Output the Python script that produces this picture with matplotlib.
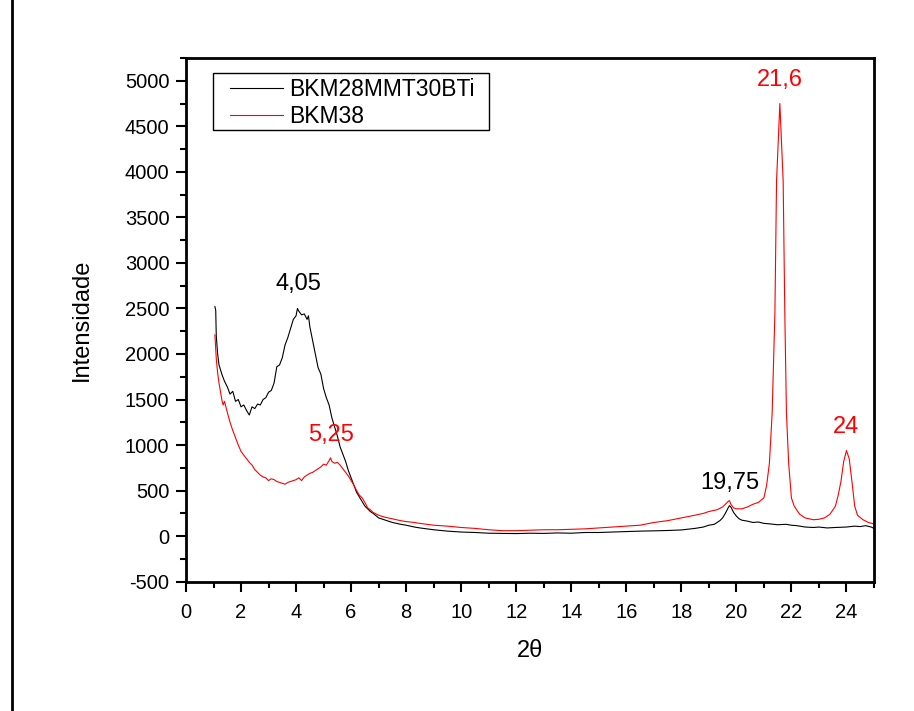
import matplotlib
matplotlib.use("Agg")
import matplotlib.pyplot as plt
from matplotlib.patches import Rectangle
from matplotlib.ticker import MultipleLocator

plt.rcParams['font.family'] = ['Liberation Sans', 'DejaVu Sans']
plt.rcParams['axes.unicode_minus'] = False

# BKM28MMT30BTi (black)
x_black = [1.05, 1.08, 1.1, 1.15, 1.2, 1.3, 1.4, 1.5, 1.6, 1.7, 1.8, 1.9, 2.0, 2.1, 2.2, 2.3, 2.4, 2.5,
           2.6, 2.7, 2.8, 2.9, 3.0, 3.1, 3.2, 3.3, 3.4, 3.5, 3.6, 3.7, 3.8, 3.9, 4.0, 4.05, 4.1, 4.2,
           4.3, 4.4, 4.45, 4.5, 4.6, 4.7, 4.8, 4.9, 5.0, 5.1, 5.2, 5.3, 5.4, 5.5, 5.6, 5.7, 5.8, 5.9,
           6.0, 6.1, 6.2, 6.3, 6.4, 6.5, 6.6, 6.7, 6.8, 7.0, 7.2, 7.5, 7.8, 8.0, 8.3, 8.5, 9.0, 9.5,
           10.0, 10.5, 11.0, 11.5, 12.0, 12.5, 13.0, 13.5, 14.0, 14.5, 15.0, 15.5, 16.0, 16.5, 17.0,
           17.5, 18.0, 18.5, 18.8, 19.0, 19.2, 19.4, 19.5, 19.6, 19.7, 19.75, 19.8, 19.9, 20.0, 20.1,
           20.2, 20.4, 20.6, 20.8, 21.0, 21.2, 21.5, 21.8, 22.0, 22.2, 22.5, 22.8, 23.0, 23.3, 23.6,
           24.0, 24.3, 24.5, 24.7, 24.9, 25.0]
y_black = [2520, 2480, 2200, 2000, 1880, 1780, 1700, 1640, 1560, 1590, 1480, 1500, 1420, 1440, 1380, 1330, 1420, 1400,
           1450, 1440, 1500, 1520, 1580, 1600, 1680, 1860, 1880, 1960, 2100, 2180, 2280, 2380, 2420, 2500, 2470, 2430,
           2440, 2380, 2420, 2300, 2150, 2000, 1850, 1780, 1620, 1520, 1440, 1300, 1200, 1100, 980, 900, 820, 720,
           640, 560, 480, 430, 380, 330, 300, 270, 250, 200, 180, 150, 130, 120, 100, 90, 70, 55,
           45, 40, 32, 30, 28, 32, 30, 35, 32, 40, 40, 45, 50, 55, 58,
           62, 68, 85, 100, 120, 130, 170, 200, 250, 310, 335, 320, 260, 220, 190,
           175, 165, 150, 155, 140, 135, 125, 130, 120, 115, 100, 95, 100, 90, 95,
           100, 110, 105, 115, 100, 85]

# BKM38 (red)
x_red = [1.05, 1.1, 1.15, 1.2, 1.3, 1.35, 1.4, 1.5, 1.6, 1.7, 1.8, 1.9, 2.0, 2.1, 2.2, 2.3, 2.4, 2.5,
         2.6, 2.7, 2.8, 2.9, 3.0, 3.1, 3.2, 3.3, 3.4, 3.5, 3.6, 3.7, 3.8, 3.9, 4.0, 4.1, 4.2, 4.3,
         4.4, 4.5, 4.6, 4.7, 4.8, 4.9, 5.0, 5.1, 5.2, 5.25, 5.3, 5.4, 5.5, 5.6, 5.7, 5.8, 5.9, 6.0,
         6.1, 6.2, 6.3, 6.4, 6.5, 6.6, 6.7, 6.8, 7.0, 7.2, 7.5, 7.8, 8.0, 8.3, 8.5, 9.0, 9.5, 10.0,
         10.5, 11.0, 11.5, 12.0, 12.5, 13.0, 13.5, 14.0, 14.5, 15.0, 15.5, 16.0, 16.5, 17.0, 17.5,
         18.0, 18.5, 18.8, 19.0, 19.3, 19.5, 19.7, 19.75, 19.8, 19.9, 20.0, 20.2, 20.4, 20.6, 20.8,
         21.0, 21.1, 21.2, 21.3, 21.4, 21.46, 21.58, 21.7, 21.76, 21.82, 21.9, 22.0, 22.1, 22.3,
         22.5, 22.8, 23.0, 23.2, 23.4, 23.6, 23.7, 23.8, 23.9, 24.0, 24.1, 24.2, 24.3, 24.4, 24.6,
         24.8, 25.0]
y_red = [2210, 1950, 1790, 1680, 1500, 1440, 1480, 1360, 1250, 1160, 1080, 1000, 930, 890, 850, 810, 780, 730,
         700, 670, 650, 640, 610, 630, 620, 600, 590, 580, 570, 590, 600, 610, 620, 640, 610, 650,
         670, 690, 700, 720, 740, 760, 790, 780, 830, 860, 820, 800, 810, 780, 740, 700, 660, 610,
         560, 500, 450, 420, 370, 310, 290, 260, 230, 210, 190, 170, 160, 150, 140, 120, 110, 95,
         85, 70, 60, 60, 65, 70, 70, 75, 80, 90, 100, 110, 120, 150, 170,
         200, 230, 250, 270, 290, 320, 380, 390, 350, 310, 300, 300, 320, 350, 370,
         420, 560, 800, 1350, 2450, 3900, 4750, 3900, 2450, 1350, 800, 420, 330, 240,
         200, 180, 185, 200, 240, 330, 450, 600, 820, 940, 850, 600, 330, 230, 180,
         150, 135]

series_labels = ["BKM28MMT30BTi", "BKM38"]

peak_labels = ["4,05", "5,25", "19,75", "21,6", "24"]
peak_x = [4.07, 5.27, 19.76, 21.58, 23.97]
peak_y = [2770, 1108, 588, 5007, 1197]
peak_colors = ["black", "red", "black", "red", "red"]

fig = plt.figure(figsize=(9.14, 7.11), dpi=100)
ax = fig.add_axes([0.2035, 0.1819, 0.7527, 0.7365])

ax.plot(x_black, y_black, color="black", lw=0.8, label=series_labels[0])
ax.plot(x_red, y_red, color="red", lw=0.8, label=series_labels[1])

for t, xx, yy, c in zip(peak_labels, peak_x, peak_y, peak_colors):
    ax.text(xx, yy, t, color=c, fontsize=17, ha="center", va="center")

ax.set_xlim(0, 25)
ax.set_ylim(-500, 5250)
ax.xaxis.set_major_locator(MultipleLocator(2))
ax.xaxis.set_minor_locator(MultipleLocator(1))
ax.yaxis.set_major_locator(MultipleLocator(500))
ax.yaxis.set_minor_locator(MultipleLocator(250))
ax.tick_params(which="major", direction="out", length=7, width=1.5, labelsize=14.5, pad=5)
ax.tick_params(axis="x", which="major", pad=8)
ax.tick_params(which="minor", direction="out", length=4, width=1.5)
for s in ax.spines.values():
    s.set_linewidth(2)

ax.set_xlabel("2θ", fontsize=17, labelpad=13)
ax.set_ylabel("Intensidade", fontsize=17, labelpad=23)

leg = ax.legend(loc="upper left", bbox_to_anchor=(0.064, 0.961), fontsize=16.5, frameon=False,
                handlelength=2.3, borderpad=0.0, labelspacing=0.15, handletextpad=0.3,
                borderaxespad=0)
ax.add_patch(Rectangle((0.0392, 0.8625), 0.4012, 0.1094, transform=ax.transAxes,
                       fill=False, edgecolor="black", linewidth=1.0, zorder=5))

fig.patches.append(Rectangle((11.5 / 914, -0.2), 1.2, 1.2 + (1 - 7.5 / 711), transform=fig.transFigure,
                             fill=False, edgecolor="black", linewidth=2, clip_on=False))

fig.savefig("out.png", dpi=100)
